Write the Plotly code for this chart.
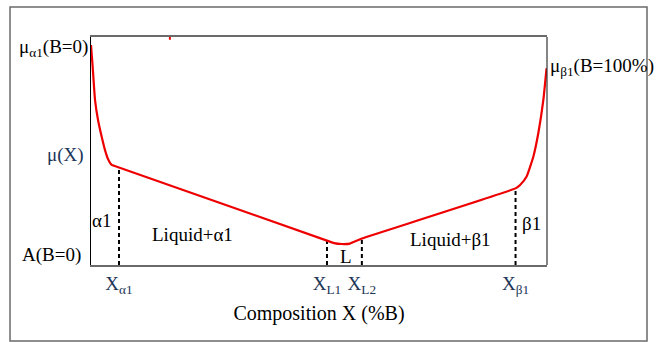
import plotly.graph_objects as go

# Free-energy (chemical potential) curve across composition, %B
comp_x = [0.0, 0.37, 0.88, 1.54, 2.41, 3.07, 3.73, 4.54, 6.14, 51.75, 53.3, 55.0,
          56.8, 58.1, 59.4, 93.1, 94.1, 95.5, 97.0, 98.1, 99.2, 99.9]
mu_y = [96.5, 86.8, 72.4, 63.6, 55.7, 50.4, 46.5, 43.9, 42.8, 10.7, 9.6, 9.2,
        9.4, 10.5, 11.6, 33.6, 35.1, 38.7, 47.5, 57.9, 72.4, 86.3]

# Phase boundary compositions and the curve value at each
bound_x = [6.14, 51.75, 59.4, 93.1]
bound_y = [42.8, 10.7, 11.6, 33.6]
bound_labels = ["X<sub>α1</sub>", "X<sub>L1</sub>", "X<sub>L2</sub>", "X<sub>β1</sub>"]

# Region names inside the diagram
region_text = ["α1", "Liquid+α1", "L", "Liquid+β1", "β1"]
region_x = [2.3, 22.3, 55.9, 78.8, 96.5]
region_y = [19.7, 13.2, 3.9, 11.0, 18.0]

SERIF = "Liberation Serif, Times New Roman, serif"
NAVY = "#1c3557"
GRAY = "#6a6a6a"

fig = go.Figure()

# vertical dashed boundaries
for bx, by in zip(bound_x, bound_y):
    fig.add_trace(go.Scatter(x=[bx, bx], y=[0, by], mode="lines",
                             line=dict(color="black", width=2, dash="4px,3px"),
                             hoverinfo="skip", showlegend=False))

fig.add_trace(go.Scatter(x=comp_x, y=mu_y, mode="lines",
                         line=dict(color="#ee0000", width=2.2, shape="spline", smoothing=0.4),
                         showlegend=False, cliponaxis=False))

# small red stroke on the top edge
fig.add_trace(go.Scatter(x=[17.3, 17.3], y=[100, 98.8], mode="lines",
                         line=dict(color="#ee0000", width=2), showlegend=False,
                         cliponaxis=False))

ann = []
for t, x, y in zip(region_text, region_x, region_y):
    ann.append(dict(x=x, y=y, xref="x", yref="y", text=t, showarrow=False,
                    font=dict(family=SERIF, size=19, color="black"),
                    xanchor="center", yanchor="middle"))

# labels on the left edge
ann.append(dict(x=0, y=95.2, xref="x", yref="y", text="μ<sub>α1</sub>(B=0)", showarrow=False,
                font=dict(family=SERIF, size=19, color="black"),
                xanchor="right", yanchor="middle", xshift=-1))
ann.append(dict(x=0, y=48.2, xref="x", yref="y", text="μ(X)", showarrow=False,
                font=dict(family=SERIF, size=19, color=NAVY),
                xanchor="right", yanchor="middle", xshift=-5))
ann.append(dict(x=0, y=4.4, xref="x", yref="y", text="A(B=0)", showarrow=False,
                font=dict(family=SERIF, size=19, color="black"),
                xanchor="right", yanchor="middle", xshift=-8))
# labels on the right edge
ann.append(dict(x=100, y=86.8, xref="x", yref="y", text="μ<sub>β1</sub>(B=100%)", showarrow=False,
                font=dict(family=SERIF, size=19, color="black"),
                xanchor="left", yanchor="middle", xshift=1))
ann.append(dict(x=100, y=-1.8, xref="x", yref="y", text="B=100%", showarrow=False,
                font=dict(family=SERIF, size=19, color="black"),
                xanchor="left", yanchor="middle", xshift=3))

shapes = [
    # outer frame
    dict(type="rect", xref="paper", yref="paper", x0=-0.1776, x1=1.2193, y0=-0.3333, y1=1.1316,
         line=dict(color=GRAY, width=1.5)),
    # right edge of the diagram
    dict(type="line", xref="paper", yref="paper", x0=1, x1=1, y0=0, y1=1,
         line=dict(color="#333333", width=1.2)),
]

fig.update_layout(
    width=660, height=342,
    margin=dict(l=91, r=113, t=37, b=77),
    paper_bgcolor="white", plot_bgcolor="white",
    annotations=ann, shapes=shapes,
    xaxis=dict(range=[0, 100], showgrid=False, zeroline=False,
               showline=True, mirror=True, linecolor=GRAY, linewidth=2,
               tickmode="array", tickvals=bound_x, ticktext=bound_labels, ticks="",
               tickfont=dict(family=SERIF, size=19, color=NAVY),
               title=dict(text="Composition X (%B)", standoff=10,
                          font=dict(family=SERIF, size=20, color="black"))),
    yaxis=dict(range=[0, 100], showgrid=False, zeroline=False,
               showline=True, linecolor="black", linewidth=1.2,
               showticklabels=False, ticks=""),
)

fig.write_html("out.html")
